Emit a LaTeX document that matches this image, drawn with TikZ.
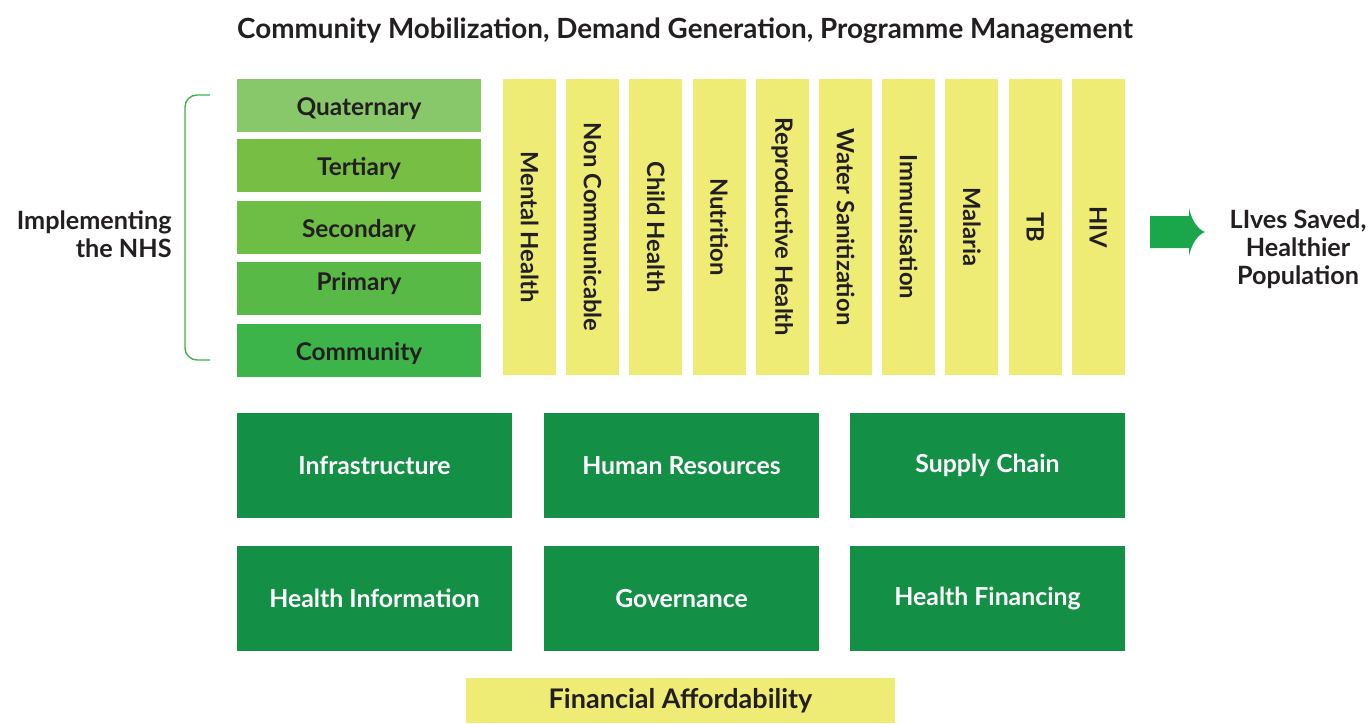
\documentclass[tikz,border=0pt]{standalone}
\usepackage{fontspec}
\setmainfont{Lato}
\usetikzlibrary{positioning}
\definecolor{txtgray}{HTML}{231F20}
\definecolor{quatgreen}{HTML}{88C76A}
\definecolor{tertgreen}{HTML}{76BE44}
\definecolor{secgreen}{HTML}{6EBD44}
\definecolor{primgreen}{HTML}{58B947}
\definecolor{commgreen}{HTML}{3CB44A}
\definecolor{progyellow}{HTML}{EFEC76}
\definecolor{pillargreen}{HTML}{138F46}
\definecolor{arrowgreen}{HTML}{1AA64B}
\tikzset{
  level/.style={fill=#1, minimum width=122pt, minimum height=26.5pt, inner sep=0pt,
    text height=10pt, text depth=0pt,
    font=\fontsize{12.2}{14}\selectfont\bfseries, text=txtgray},
  prog/.style={fill=progyellow, rotate=-90, minimum width=148pt, minimum height=26.5pt,
    inner sep=0pt, font=\fontsize{11.9}{14}\selectfont\bfseries, text=txtgray},
  pillar/.style={fill=pillargreen, minimum width=137.5pt, minimum height=52.5pt, inner sep=0pt,
    font=\fontsize{12.4}{14}\selectfont\bfseries, text=white},
  plain/.style={font=\fontsize{12.6}{14}\selectfont\bfseries, text=txtgray, inner sep=0pt}
}
\begin{document}
\begin{tikzpicture}[x=0.5pt,y=-0.5pt]
\useasboundingbox (0,0) rectangle (1368,723);
% title
\node[plain, font=\fontsize{13.9}{16}\selectfont\bfseries] (title) at (685,31) {Community Mobilization, Demand Generation, Programme Management};
% levels of care
\node[level=quatgreen] (quat) at (359,105) {Quaternary};
\node[level=tertgreen] (tert) at (359,165.5) {Tertiary};
\node[level=secgreen] (sec) at (359,227) {Secondary};
\node[level=primgreen, text depth=8.5pt] (prim) at (359,288.5) {Primary};
\node[level=commgreen] (comm) at (359,350.5) {Community};
\draw[commgreen, line width=0.7pt, rounded corners=6pt] (210,95) -| (185,360) -- (210,360);
\node[plain, align=right, anchor=east] (impl) at (172,234) {Implementing\\the NHS};
% programmes
\foreach \name [count=\i from 0] in {Mental Health, Non Communicable, Child Health, Nutrition,
  Reproductive Health, Water Sanitization, Immunisation, Malaria, TB, HIV}
  \node[prog] (p\i) at (529.5+63.2*\i,227) {\name};
% outcome
\fill[arrowgreen] (1150,216) -- (1189,216) -- (1189,208)
  .. controls (1192,222) and (1199,230) .. (1205,232)
  .. controls (1199,234) and (1192,242) .. (1189,256) -- (1189,248) -- (1150,248) -- cycle;
\node[plain, align=center] (lives) at (1298,249) {LIves Saved,\\Healthier\\Population};
% building blocks
\node[pillar] (infra) at (374.5,465.5) {Infrastructure};
\node[pillar] (hr) at (681.5,465.5) {Human Resources};
\node[pillar] (supply) at (987.5,465.5) {Supply Chain};
\node[pillar] (hinfo) at (374.5,598.5) {Health Information};
\node[pillar] (gov) at (681.5,598.5) {Governance};
\node[pillar] (hfin) at (987.5,598.5) {Health Financing};
\node[fill=progyellow, minimum width=214.5pt, minimum height=22.5pt, inner sep=0pt,
  font=\fontsize{13.5}{15}\selectfont\bfseries, text=txtgray] (afford) at (680.5,700.5) {Financial Affordability};
\end{tikzpicture}
\end{document}
